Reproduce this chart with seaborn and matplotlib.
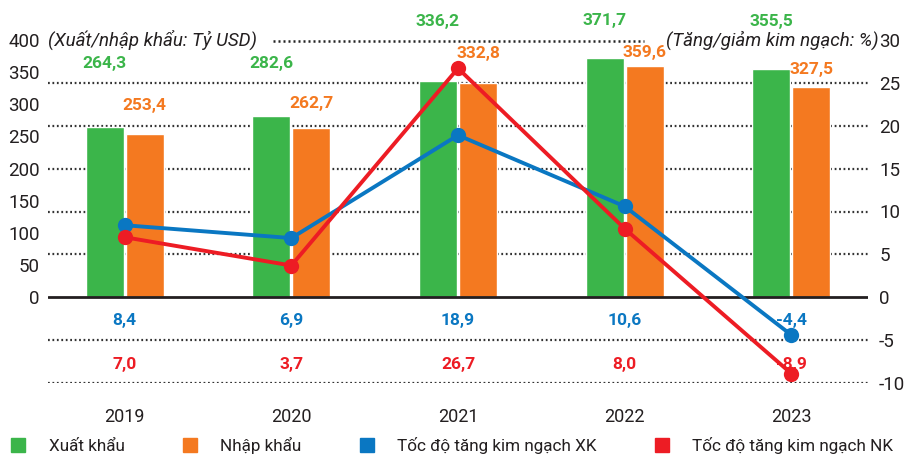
import matplotlib
matplotlib.use("Agg")
import matplotlib.pyplot as plt
import seaborn as sns
import pandas as pd
from matplotlib.lines import Line2D

# Data
years = ["2019", "2020", "2021", "2022", "2023"]
xuat_khau = [264.3, 282.6, 336.2, 371.7, 355.5]
nhap_khau = [253.4, 262.7, 332.8, 359.6, 327.5]
tang_xk = [8.4, 6.9, 18.9, 10.6, -4.4]
tang_nk = [7.0, 3.7, 26.7, 8.0, -8.9]

series = ["Xuất khẩu", "Nhập khẩu"]
line_names = ["Tốc độ tăng kim ngạch XK", "Tốc độ tăng kim ngạch NK"]

GREEN = "#3bb54a"
ORANGE = "#f47920"
BLUE = "#0a77c2"
RED = "#ed1c24"
DARK = "#231f20"

# label offsets above bar tops (points), as placed in the original
green_off = [46, 37.5, 43, 27, 34]
orange_off = [21, 18, 21.5, 9.5, 12]

sns.set_theme(style="white")
plt.rcParams["font.family"] = ["Roboto", "DejaVu Sans"]
plt.rcParams["axes.unicode_minus"] = False

df = pd.DataFrame({
    "year": years * 2,
    "value": xuat_khau + nhap_khau,
    "series": [series[0]] * len(years) + [series[1]] * len(years),
})

fig = plt.figure(figsize=(9.08, 4.55), dpi=100)
ax = fig.add_axes([48 / 908, 1 - 383 / 455, 820 / 908, 343 / 455])

sns.barplot(data=df, x="year", y="value", hue="series", hue_order=series,
            palette=[GREEN, ORANGE], width=0.48, gap=0.05, saturation=1,
            legend=False, ax=ax, zorder=2)

# scales: left 0..400 for trade, right -10..30 for growth, zero aligned
ax.set_ylim(-400 / 3, 400)
ax.set_xlim(-0.46, 4.46)

# dotted grid at the right-axis ticks
grid_style = dict(color="#333333", lw=1.6, ls=(0, (0.8, 1.2)))
for r in range(-10, 30, 5):
    if r == 0:
        continue
    ax.axhline(r * 40 / 3, zorder=0.5, **grid_style)
ax.axhline(0, color=DARK, lw=2, zorder=3)

# bar value labels
for cont, col, offs in zip(ax.containers, [GREEN, ORANGE], [green_off, orange_off]):
    for bar, off in zip(cont, offs):
        h = bar.get_height()
        ax.annotate(f"{h:.1f}".replace(".", ","),
                    (bar.get_x() + bar.get_width() / 2, h),
                    xytext=(0, off), textcoords="offset points",
                    ha="center", va="center", color=col,
                    fontsize=12.5, fontweight="bold", zorder=6)

ax.set_yticks(range(0, 401, 50))
ax.set_xlabel("")
ax.set_ylabel("")
ax.tick_params(axis="y", length=0, pad=6, labelsize=13.5, labelcolor=DARK)
ax.tick_params(axis="x", length=0, pad=18, labelsize=13, labelcolor=DARK)
for s in ax.spines.values():
    s.set_visible(False)

# growth lines on the right axis
ax2 = ax.twinx()
xpos = list(range(len(years)))
for vals, col in zip([tang_xk, tang_nk], [BLUE, RED]):
    sns.lineplot(x=xpos, y=vals, color=col, marker="o", markersize=11,
                 markeredgewidth=0, linewidth=2.8, legend=False, ax=ax2)
ax2.set_ylim(-10, 30)
ax2.set_xlim(-0.46, 4.46)
ax2.set_yticks(range(-10, 31, 5))
ax2.tick_params(axis="y", length=0, pad=8, labelsize=13.5, labelcolor=DARK)
ax2.set_ylabel("")
for s in ax2.spines.values():
    s.set_visible(False)

# axis titles
t_left = ax2.text(0.0, 30, "(Xuất/nhập khẩu: Tỷ USD)", transform=ax2.get_yaxis_transform(),
                  ha="left", va="center", fontsize=13.5, style="italic", color=DARK)
t_right = ax2.text(1.013, 30, "(Tăng/giảm kim ngạch: %)", transform=ax2.get_yaxis_transform(),
                   ha="right", va="center", fontsize=13.5, style="italic", color=DARK)

# growth values in rows under the zero line
for vals, col, yrow in zip([tang_xk, tang_nk], [BLUE, RED], [-2.7, -7.8]):
    for i, v in enumerate(vals):
        ax2.text(i, yrow, f"{v:.1f}".replace(".", ","), ha="center", va="center",
                 color=col, fontsize=12.5, fontweight="bold")

# legend
handles = [Line2D([], [], ls="none", marker="s", markersize=10, color=c)
           for c in [GREEN, ORANGE, BLUE, RED]]
fig.legend(handles, series + line_names, loc="center left",
           bbox_to_anchor=(9.5 / 908, 1 - 445 / 455), ncol=4, frameon=False,
           fontsize=12.3, handlelength=1, handletextpad=1.3, columnspacing=3.3,
           borderpad=0, borderaxespad=0, labelcolor=DARK)

# top grid line (30 %) runs between the two axis titles
fig.canvas.draw()
rend = fig.canvas.get_renderer()
lb = t_left.get_window_extent(rend)
rb = t_right.get_window_extent(rend)
y_top = ax.transAxes.transform((0, 1))[1] - 1
p0 = fig.transFigure.inverted().transform((lb.x1 + 16, y_top))
p1 = fig.transFigure.inverted().transform((rb.x0 - 22, y_top))
fig.add_artist(Line2D([p0[0], p1[0]], [p0[1], p1[1]], transform=fig.transFigure,
                      zorder=10, color="#222222", lw=1.8, ls=(0, (0.8, 1.2))))

fig.savefig("out.png", dpi=100)
